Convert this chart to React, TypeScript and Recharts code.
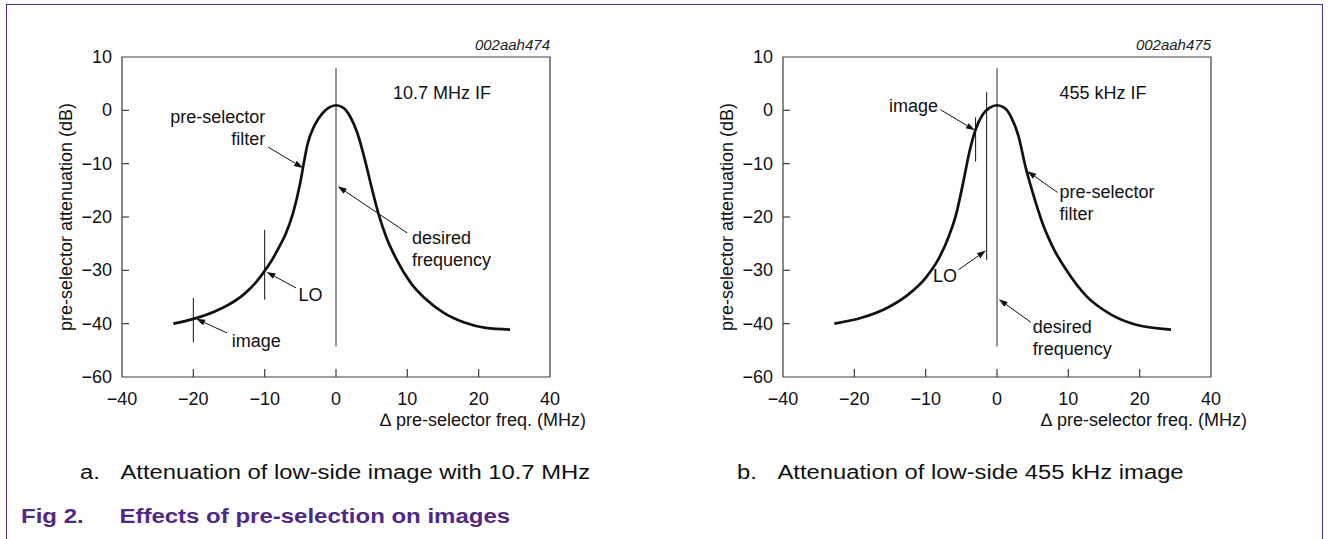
import React from "react";
import { LineChart, Line, XAxis, YAxis, ReferenceArea, ReferenceLine, ReferenceDot } from "recharts";

// axis ticks (labels as printed on the original figure)
const xTicks = [-30, -20, -10, 0, 10, 20, 30];
const xTickLabels = ["\u221240", "\u221220", "\u221210", "0", "10", "20", "40"];
const yTicks = [10, 0, -10, -20, -30, -40, -50];
const yTickLabels = ["10", "0", "\u221210", "\u221220", "\u221230", "\u221240", "\u221260"];

// pre-selector filter response, 10.7 MHz IF chart
const curveA = [
  { x: -22.8, y: -40 },
  { x: -20, y: -39.1 },
  { x: -17, y: -37.7 },
  { x: -15, y: -36.4 },
  { x: -13, y: -34.6 },
  { x: -11, y: -31.9 },
  { x: -10, y: -30.1 },
  { x: -9, y: -28.1 },
  { x: -8, y: -25.7 },
  { x: -7, y: -23 },
  { x: -6, y: -19.2 },
  { x: -5, y: -13.5 },
  { x: -4.5, y: -9.8 },
  { x: -4, y: -6.4 },
  { x: -3, y: -2.8 },
  { x: -2, y: -0.7 },
  { x: -1, y: 0.5 },
  { x: 0, y: 0.95 },
  { x: 1, y: 0.5 },
  { x: 2, y: -1.2 },
  { x: 3, y: -4.3 },
  { x: 4, y: -9 },
  { x: 5, y: -14.5 },
  { x: 6, y: -19.6 },
  { x: 7, y: -23.6 },
  { x: 8.5, y: -28 },
  { x: 10.5, y: -32.4 },
  { x: 12.5, y: -35.3 },
  { x: 15, y: -37.9 },
  { x: 18, y: -39.8 },
  { x: 21, y: -40.8 },
  { x: 24.4, y: -41.1 },
];

// pre-selector filter response, 455 kHz IF chart
const curveB = [
  { x: -22.8, y: -40 },
  { x: -19, y: -38.9 },
  { x: -15.5, y: -37.1 },
  { x: -12.5, y: -34.6 },
  { x: -10, y: -31.4 },
  { x: -8.25, y: -28 },
  { x: -6.75, y: -23.6 },
  { x: -5.75, y: -19.6 },
  { x: -4.75, y: -13.6 },
  { x: -3.9, y: -8 },
  { x: -3, y: -3.6 },
  { x: -2, y: -0.8 },
  { x: -1, y: 0.5 },
  { x: 0, y: 0.95 },
  { x: 1, y: 0.5 },
  { x: 2, y: -1.3 },
  { x: 3, y: -4.8 },
  { x: 4, y: -10.6 },
  { x: 5.25, y: -16.5 },
  { x: 6.5, y: -21.6 },
  { x: 8, y: -26.1 },
  { x: 10, y: -30.5 },
  { x: 12.5, y: -34.8 },
  { x: 16, y: -38.3 },
  { x: 19.5, y: -40.2 },
  { x: 24.4, y: -41.1 },
];

// vertical marker lines
const markersA = [
  { x: 0, top: 7.9, bottom: -44.3, grey: true },
  { x: -20, top: -35.2, bottom: -43.5, grey: false },
  { x: -10, top: -22.4, bottom: -35.5, grey: false },
];
const markersB = [
  { x: 0, top: 7.9, bottom: -44.3, grey: true },
  { x: -3, top: -1.3, bottom: -9.6, grey: false },
  { x: -1.45, top: 3.4, bottom: -28.1, grey: false },
];

// arrows: from label to point
const arrowsA = [
  { x1: -9.5, y1: -6.9, x2: -4.62, y2: -10.8 },
  { x1: 10, y1: -23, x2: 0.25, y2: -14.25 },
  { x1: -5.6, y1: -33.3, x2: -9.75, y2: -30.3 },
  { x1: -15.25, y1: -41.75, x2: -19.6, y2: -39.1 },
];
const arrowsB = [
  { x1: -7.9, y1: 0.1, x2: -3.1, y2: -3.75 },
  { x1: -5.4, y1: -29.9, x2: -1.55, y2: -26.3 },
  { x1: 8.5, y1: -15.4, x2: 4.25, y2: -11.4 },
  { x1: 4.75, y1: -39.75, x2: 0.25, y2: -35.4 },
];

// text labels in data coords
const labelsA = [
  { x: 8, y: 3.25, anchor: "start", lines: ["10.7 MHz IF"] },
  { x: -9.9, y: -1.25, anchor: "end", lines: ["pre-selector", "filter"] },
  { x: 10.65, y: -23.9, anchor: "start", lines: ["desired", "frequency"] },
  { x: -5.25, y: -34.6, anchor: "start", lines: ["LO"] },
  { x: -14.6, y: -43.3, anchor: "start", lines: ["image"] },
];
const labelsB = [
  { x: 8.75, y: 3.25, anchor: "start", lines: ["455 kHz IF"] },
  { x: -8.25, y: 0.75, anchor: "end", lines: ["image"] },
  { x: -5.6, y: -31.1, anchor: "end", lines: ["LO"] },
  { x: 8.75, y: -15.3, anchor: "start", lines: ["pre-selector", "filter"] },
  { x: 5, y: -40.6, anchor: "start", lines: ["desired", "frequency"] },
];

const FONT = "'Liberation Sans', Arial, Helvetica, sans-serif";
const FRAME = "#3c3c3c";
const PURPLE = "#4f2a85";
const FS = 18;

function XTick(props: any) {
  const { x, y, payload, index } = props;
  const inner = index > 0 && index < xTicks.length - 1;
  return (
    <g>
      {inner && <line x1={x} x2={x} y1={y} y2={y - 8} stroke={FRAME} strokeWidth={1.2} />}
      <text x={x} y={y + 28} textAnchor="middle" fontSize={FS} fontFamily={FONT} fill="#111">
        {xTickLabels[xTicks.indexOf(payload.value)]}
      </text>
    </g>
  );
}

function YTick(props: any) {
  const { x, y, payload, index } = props;
  const inner = index > 0 && index < yTicks.length - 1;
  return (
    <g>
      {inner && <line x1={x} x2={x + 7} y1={y} y2={y} stroke={FRAME} strokeWidth={1.2} />}
      <text x={x - 10} y={y + 6} textAnchor="end" fontSize={FS} fontFamily={FONT} fill="#111">
        {yTickLabels[yTicks.indexOf(payload.value)]}
      </text>
    </g>
  );
}

function arrowShape(props: any) {
  const { x1, y1, x2, y2 } = props;
  const dx = x2 - x1;
  const dy = y2 - y1;
  const len = Math.sqrt(dx * dx + dy * dy) || 1;
  const ux = dx / len;
  const uy = dy / len;
  const hl = 9;
  const hw = 3;
  const bx = x2 - ux * hl;
  const by = y2 - uy * hl;
  return (
    <g>
      <line x1={x1} y1={y1} x2={bx} y2={by} stroke="#111" strokeWidth={1} />
      <polygon
        points={`${x2},${y2} ${bx - uy * hw},${by + ux * hw} ${bx + uy * hw},${by - ux * hw}`}
        fill="#111"
      />
    </g>
  );
}

function Panel({ data, markers, arrows, labels, code }: any) {
  return (
    <LineChart
      width={600}
      height={440}
      data={data}
      margin={{ top: 57, right: 50, left: 82, bottom: 23 }}
    >
      <XAxis
        type="number"
        dataKey="x"
        domain={[-30, 30]}
        ticks={xTicks}
        axisLine={false}
        tickLine={false}
        tickSize={0}
        tickMargin={0}
        height={40}
        tick={<XTick />}
        interval={0}
        label={{
          content: (p: any) => (
            <text
              x={p.viewBox.x + p.viewBox.width + 36}
              y={p.viewBox.y + 49}
              textAnchor="end"
              fontSize={FS}
              fontFamily={FONT}
              fill="#111"
            >
              {"\u2206 pre-selector freq. (MHz)"}
            </text>
          ),
        }}
      />
      <YAxis
        type="number"
        domain={[-50, 10]}
        ticks={yTicks}
        axisLine={false}
        tickLine={false}
        tickSize={0}
        tickMargin={0}
        width={40}
        tick={<YTick />}
        interval={0}
        label={{
          content: (p: any) => {
            const cx = p.viewBox.x - 16;
            const cy = p.viewBox.y + p.viewBox.height / 2;
            return (
              <text
                x={cx}
                y={cy}
                transform={`rotate(-90 ${cx} ${cy})`}
                textAnchor="middle"
                dominantBaseline="central"
                fontSize={FS}
                fontFamily={FONT}
                fill="#111"
              >
                pre-selector attenuation (dB)
              </text>
            );
          },
        }}
      />
      <ReferenceArea x1={-30} x2={30} y1={-50} y2={10} fill="none" stroke={FRAME} strokeWidth={1.2} />
      <ReferenceDot
        x={30}
        y={10}
        ifOverflow="visible"
        shape={(p: any) => (
          <text x={p.cx} y={p.cy - 7} textAnchor="end" fontSize={15} fontStyle="italic" fontFamily={FONT} fill="#222">
            {code}
          </text>
        )}
      />
      {markers.map((m: any, i: number) => (
        <ReferenceLine
          key={`m${i}`}
          segment={[{ x: m.x, y: m.top }, { x: m.x, y: m.bottom }]}
          stroke={m.grey ? "#7a7a7a" : "#111"}
          strokeWidth={m.grey ? 1.6 : 1}
        />
      ))}
      <Line
        type="monotone"
        dataKey="y"
        stroke="#111"
        strokeWidth={2.7}
        dot={false}
        isAnimationActive={false}
      />
      {arrows.map((a: any, i: number) => (
        <ReferenceLine
          key={`a${i}`}
          segment={[{ x: a.x1, y: a.y1 }, { x: a.x2, y: a.y2 }]}
          shape={arrowShape}
        />
      ))}
      {labels.map((l: any, i: number) => (
        <ReferenceDot
          key={`l${i}`}
          x={l.x}
          y={l.y}
          ifOverflow="visible"
          shape={(p: any) => (
            <text x={p.cx} y={p.cy + 6} textAnchor={l.anchor} fontSize={FS} fontFamily={FONT} fill="#111">
              {l.lines.map((s: string, j: number) => (
                <tspan key={j} x={p.cx} dy={j === 0 ? 0 : 22}>
                  {s}
                </tspan>
              ))}
            </text>
          )}
        />
      ))}
    </LineChart>
  );
}

const subCaption: React.CSSProperties = {
  position: "absolute",
  top: 461,
  fontSize: 20,
  color: "#111",
  whiteSpace: "nowrap",
  transform: "scaleX(1.19)",
  transformOrigin: "left center",
};

export default function App() {
  return (
    <div
      style={{
        position: "absolute",
        left: 0,
        top: 0,
        width: 1328,
        height: 539,
        background: "#fff",
        fontFamily: FONT,
        overflow: "hidden",
      }}
    >
      <div
        style={{
          position: "absolute",
          left: 6,
          top: 4,
          width: 1315,
          height: 540,
          borderTop: `1.5px solid ${PURPLE}`,
          borderLeft: `1.5px solid ${PURPLE}`,
          borderRight: `1.5px solid ${PURPLE}`,
        }}
      />
      <div style={{ position: "absolute", left: 0, top: 0 }}>
        <Panel data={curveA} markers={markersA} arrows={arrowsA} labels={labelsA} code="002aah474" />
      </div>
      <div style={{ position: "absolute", left: 661, top: 0 }}>
        <Panel data={curveB} markers={markersB} arrows={arrowsB} labels={labelsB} code="002aah475" />
      </div>
      <div style={{ ...subCaption, left: 80 }}>
        <span style={{ display: "inline-block", width: 34 }}>a.</span>Attenuation of low-side image with 10.7 MHz
      </div>
      <div style={{ ...subCaption, left: 737 }}>
        <span style={{ display: "inline-block", width: 34 }}>b.</span>Attenuation of low-side 455 kHz image
      </div>
      <div
        style={{
          position: "absolute",
          left: 21,
          top: 505,
          fontSize: 20,
          fontWeight: "bold",
          color: PURPLE,
          whiteSpace: "nowrap",
          transform: "scaleX(1.2)",
          transformOrigin: "left center",
        }}
      >
        <span style={{ display: "inline-block", width: 82 }}>Fig 2.</span>Effects of pre-selection on images
      </div>
    </div>
  );
}
